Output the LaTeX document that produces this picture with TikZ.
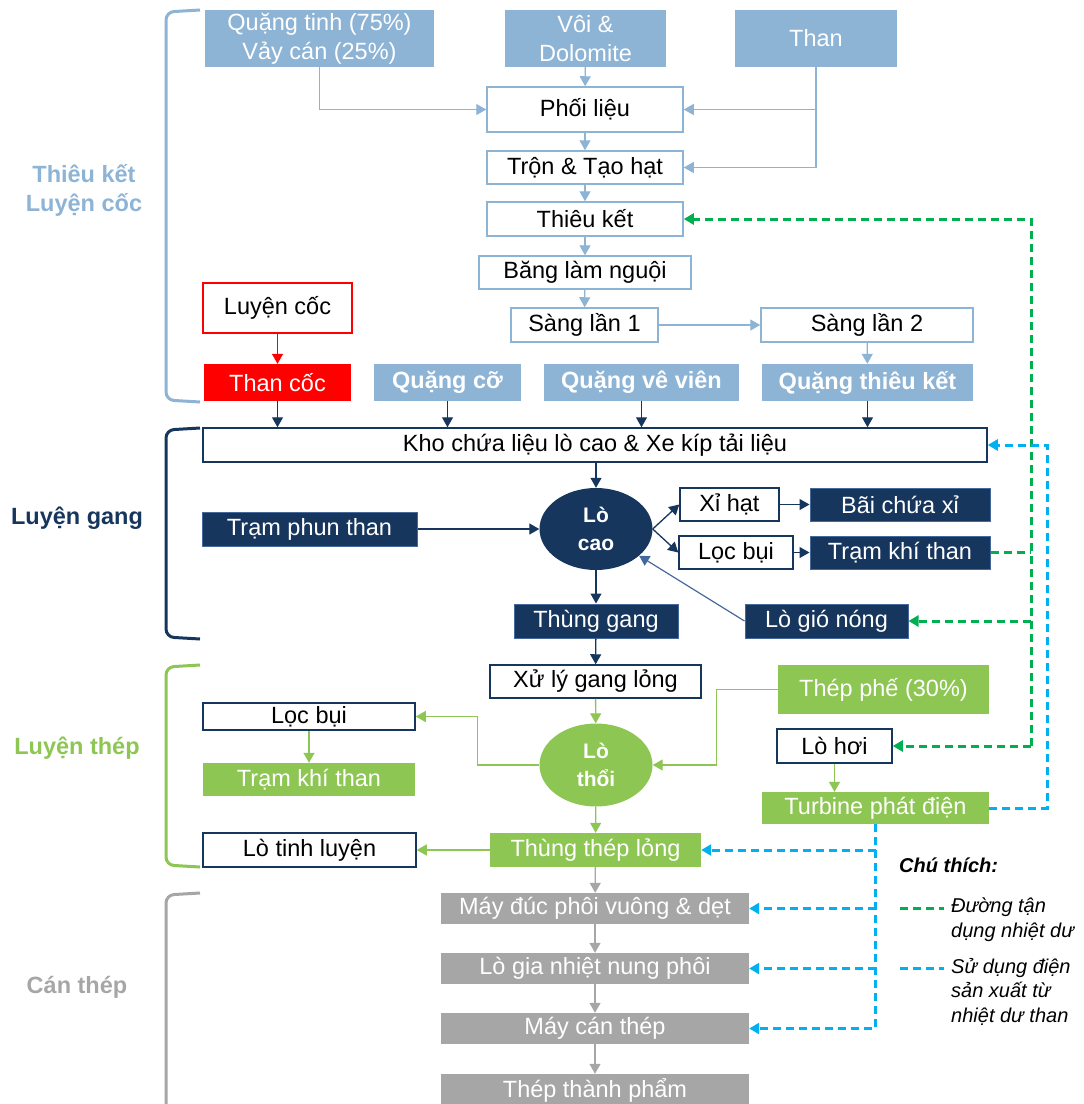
\documentclass[tikz,border=0pt]{standalone}
\usepackage{fontspec}
\setmainfont{Liberation Sans}
\usepackage{tikz}
\usetikzlibrary{arrows.meta, positioning, calc, shapes.geometric}
\definecolor{lblue}{RGB}{141,179,213}
\definecolor{navy}{RGB}{23,54,93}
\definecolor{navyedge}{RGB}{70,105,155}
\definecolor{lgreen}{RGB}{141,198,82}
\definecolor{lgray}{RGB}{166,166,166}
\definecolor{dgreen}{RGB}{0,176,80}
\definecolor{dblue}{RGB}{0,176,240}
\definecolor{cred}{RGB}{255,0,0}

\begin{document}
\begin{tikzpicture}[x=1pt, y=-1pt, >={Triangle[length=10pt,width=11pt]},
  font=\fontsize{23.5}{29}\selectfont,
  every node/.style={inner sep=1pt, align=center},
  lbfill/.style={rectangle, fill=lblue, text=white},
  lbline/.style={rectangle, draw=lblue, line width=1.5pt, fill=white},
  nvfill/.style={rectangle, fill=navy, draw=navyedge, line width=1pt, text=white},
  nvline/.style={rectangle, draw=navy, line width=1.5pt, fill=white},
  grfill/.style={rectangle, fill=lgreen, text=white},
  gyfill/.style={rectangle, fill=lgray, text=white},
  boldtxt/.style={font=\fontsize{23.5}{29}\selectfont\bfseries},
  lbarr/.style={->, draw=lblue, line width=1.3pt},
  nvarr/.style={->, draw=navy, line width=1.3pt},
  grarr/.style={->, draw=lgreen, line width=1.3pt},
  gyarr/.style={->, draw=lgray, line width=1.3pt},
  gdash/.style={draw=dgreen, line width=3pt, dash pattern=on 8pt off 5pt},
  bdash/.style={draw=dblue, line width=3pt, dash pattern=on 8pt off 5pt},
  brace/.style={line width=3pt, rounded corners=8pt},
  stage/.style={font=\fontsize{23.5}{29}\selectfont\bfseries}]
  \useasboundingbox (0,0) rectangle (1084,1104);

  \node[lbfill, minimum width=229, minimum height=57] (qtinh) at (319.5,38.5) {Quặng tinh (75\%)\\Vảy cán (25\%)};
  \node[lbfill, minimum width=161, minimum height=57] (voi) at (585.5,38.5) {Vôi \&\\Dolomite};
  \node[lbfill, minimum width=162, minimum height=57] (than) at (816,38.5) {Than};
  \node[lbline, minimum width=196, minimum height=45] (phoi) at (585,109.5) {Phối liệu};
  \node[lbline, minimum width=196, minimum height=33] (tron) at (585,167.5) {Trộn \& Tạo hạt};
  \node[lbline, minimum width=196, minimum height=34] (thieuket) at (585,219) {Thiêu kết};
  \node[lbline, minimum width=212, minimum height=33] (bang) at (585,272.5) {Băng làm nguội};
  \node[lbline, minimum width=147, minimum height=34] (sang1) at (584.5,325) {Sàng lần 1};
  \node[lbline, minimum width=212, minimum height=34] (sang2) at (867,325) {Sàng lần 2};
  \node[rectangle, draw=cred, line width=2pt, fill=white, minimum width=149, minimum height=50] (luyencoc) at (277.5,308) {Luyện cốc};
  \node[rectangle, fill=cred, text=white, minimum width=147, minimum height=37] (thancoc) at (277.5,382.5) {Than cốc};
  \node[lbfill, boldtxt, minimum width=147, minimum height=37] (qco) at (447.5,382.5) {Quặng cỡ};
  \node[lbfill, boldtxt, minimum width=195, minimum height=37] (qvv) at (641.5,382.5) {Quặng vê viên};
  \node[lbfill, boldtxt, minimum width=211, minimum height=37] (qtk) at (867.5,382.5) {Quặng thiêu kết};

  \node[nvline, minimum width=784, minimum height=34] (kho) at (595,445) {Kho chứa liệu lò cao \& Xe kíp tải liệu};
  \node[ellipse, fill=navy, text=white, inner sep=0pt, minimum width=113, minimum height=82,
    font=\fontsize{21}{28}\selectfont\bfseries] (locao) at (596,529) {Lò\\cao};
  \node[nvfill, minimum width=215, minimum height=34] (phun) at (309.5,529) {Trạm phun than};
  \node[nvline, minimum width=99, minimum height=33] (xihat) at (729.5,504.5) {Xỉ hạt};
  \node[nvfill, minimum width=180, minimum height=33] (baixi) at (900,504.5) {Bãi chứa xỉ};
  \node[nvline, minimum width=114, minimum height=33] (locbui1) at (736,552.5) {Lọc bụi};
  \node[nvfill, minimum width=180, minimum height=33] (khithan1) at (900,552.5) {Trạm khí than};
  \node[nvfill, minimum width=163, minimum height=34] (logio) at (826.5,621) {Lò gió nóng};
  \node[nvfill, minimum width=164, minimum height=34] (thunggang) at (596,621) {Thùng gang};

  \node[nvline, minimum width=211, minimum height=33] (xuly) at (595.5,681.5) {Xử lý gang lỏng};
  \node[grfill, minimum width=211, minimum height=49] (thepphe) at (883.5,689.5) {Thép phế (30\%)};
  \node[ellipse, fill=lgreen, text=white, inner sep=0pt, minimum width=113, minimum height=83,
    font=\fontsize{21}{28}\selectfont\bfseries] (lothoi) at (596,765) {Lò\\thổi};
  \node[nvline, minimum width=212, minimum height=27] (locbui2) at (309,716.5) {Lọc bụi};
  \node[grfill, minimum width=212, minimum height=33] (khithan2) at (309,779.5) {Trạm khí than};
  \node[nvline, minimum width=213, minimum height=34] (tinhluyen) at (309.5,850) {Lò tinh luyện};
  \node[grfill, minimum width=211, minimum height=34] (thungthep) at (595.5,850) {Thùng thép lỏng};
  \node[nvline, minimum width=115, minimum height=34] (lohoi) at (834.5,746) {Lò hơi};
  \node[grfill, minimum width=227, minimum height=32] (turbine) at (875.5,808) {Turbine phát điện};

  \node[gyfill, minimum width=308, minimum height=31] (mayduc) at (595,908.5) {Máy đúc phôi vuông \& dẹt};
  \node[gyfill, minimum width=308, minimum height=31] (logia) at (595,968.5) {Lò gia nhiệt nung phôi};
  \node[gyfill, minimum width=308, minimum height=31] (maycan) at (595,1028.5) {Máy cán thép};
  \node[gyfill, minimum width=308, minimum height=32] (thanhpham) at (595,1090) {Thép thành phẩm};

  \draw[lbarr] (qtinh.south) |- (phoi.west);
  \draw[lbarr] (voi) -- (phoi);
  \draw[lbarr] (than.south) |- (phoi.east);
  \draw[lbarr] (than.south) |- (tron.east);
  \draw[lbarr] (phoi) -- (tron);
  \draw[lbarr] (tron) -- (thieuket);
  \draw[lbarr] (thieuket) -- (bang);
  \draw[lbarr] (bang) -- (sang1);
  \draw[lbarr] (sang1) -- (sang2);
  \draw[lbarr] (sang2) -- (qtk);
  \draw[->, draw=cred, line width=1.3pt] (luyencoc) -- (thancoc);

  \draw[nvarr] (thancoc.south) -- (thancoc.south |- kho.north);
  \draw[nvarr] (qco.south) -- (qco.south |- kho.north);
  \draw[nvarr] (qvv.south) -- (qvv.south |- kho.north);
  \draw[nvarr] (qtk.south) -- (qtk.south |- kho.north);
  \draw[nvarr] (locao.north |- kho.south) -- (locao.north);
  \draw[nvarr] (phun) -- (locao);
  \draw[nvarr] (locao.east) -- (xihat.west);
  \draw[nvarr] (locao.east) -- (locbui1.west);
  \draw[nvarr] (xihat) -- (baixi);
  \draw[nvarr] (locbui1) -- (khithan1);
  \draw[->, draw=navyedge, line width=1.2pt] (logio.west) -- (locao);
  \draw[nvarr] (locao) -- (thunggang);
  \draw[nvarr] (thunggang) -- (xuly);

  \draw[grarr] (xuly) -- (lothoi);
  \draw[grarr] (thepphe.west) -- ++(-61,0) |- (lothoi.east);
  \draw[grarr] (lothoi.west) -- ++(-62,0) |- (locbui2.east);
  \draw[grarr] (locbui2) -- (khithan2);
  \draw[grarr] (lothoi) -- (thungthep);
  \draw[grarr] (thungthep) -- (tinhluyen);
  \draw[grarr] (lohoi.south) -- (lohoi.south |- turbine.north);

  \draw[gyarr] (thungthep) -- (mayduc);
  \draw[gyarr] (mayduc) -- (logia);
  \draw[gyarr] (logia) -- (maycan);
  \draw[gyarr] (maycan) -- (thanhpham);

  \coordinate (gv) at (1031,0);
  \coordinate (bv) at (1047,0);
  \draw[gdash] (khithan1.east) -- (khithan1.east -| gv);
  \draw[gdash, ->] (gv |- lohoi.east) -- (gv |- thieuket.east) -- (thieuket.east);
  \draw[gdash, ->] (gv |- logio.east) -- (logio.east);
  \draw[gdash, ->] (gv |- lohoi.east) -- (lohoi.east);
  \draw[bdash, ->] (turbine.east) -| (bv |- kho.east) -- (kho.east);
  \draw[bdash, ->] (turbine.south) |- (maycan.east);
  \draw[bdash, ->] (turbine.south |- thungthep.east) -- (thungthep.east);
  \draw[bdash, ->] (turbine.south |- mayduc.east) -- (mayduc.east);
  \draw[bdash, ->] (turbine.south |- logia.east) -- (logia.east);

  \draw[brace, lblue] (200,10) -- (166,12) -- (166,400) -- (200,402);
  \draw[brace, navy] (200,428) -- (166,430) -- (166,637) -- (200,639);
  \draw[brace, lgreen] (200,665) -- (166,667) -- (166,865) -- (200,867);
  \draw[brace, lgray] (200,893) -- (166,895) -- (166,1110);
  \node[stage, text=lblue] (st1) at (84,190) {Thiêu kết\\Luyện cốc};
  \node[stage, text=navy] (st2) at (77,518) {Luyện gang};
  \node[stage, text=lgreen] (st3) at (77,748) {Luyện thép};
  \node[stage, text=lgray] (st4) at (77,987) {Cán thép};

  \node[anchor=west, font=\fontsize{20}{25}\selectfont\bfseries\itshape] (chu) at (898,865) {Chú thích:};
  \draw[gdash] (900,908) -- (944,908);
  \draw[bdash] (900,968) -- (944,968);
  \node[anchor=north west, align=left, font=\fontsize{20}{25}\selectfont\itshape] (lg1) at (950,897) {Đường tận\\dụng nhiệt dư};
  \node[anchor=north west, align=left, font=\fontsize{20}{24.5}\selectfont\itshape] (lg2) at (950,957) {Sử dụng điện\\sản xuất từ\\nhiệt dư than};
\end{tikzpicture}
\end{document}
